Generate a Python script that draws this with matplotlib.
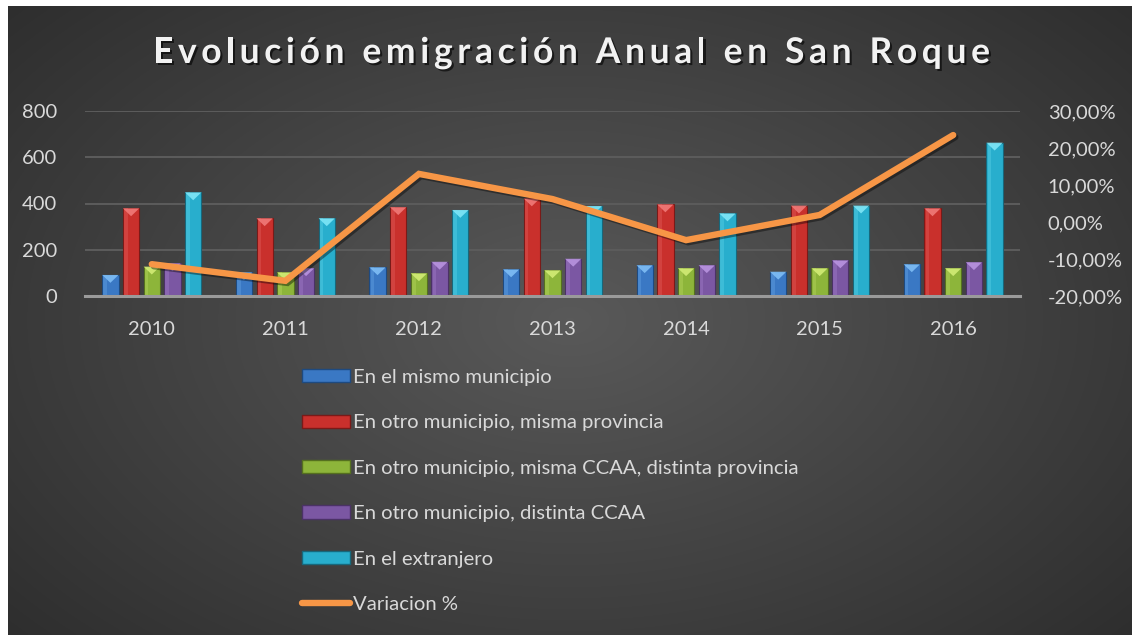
import numpy as np
import matplotlib
matplotlib.use("Agg")
import matplotlib.pyplot as plt
from matplotlib.patches import Polygon, Rectangle
from matplotlib.lines import Line2D
from matplotlib.ticker import FuncFormatter, MultipleLocator
import matplotlib.patheffects as pe

years = ["2010", "2011", "2012", "2013", "2014", "2015", "2016"]
mismo_municipio = [91, 102, 124, 115, 133, 105, 137]
otro_mun_misma_prov = [379, 336, 384, 422, 396, 391, 379]
otro_mun_misma_ccaa = [127, 102, 98, 111, 120, 120, 120]
otro_mun_distinta_ccaa = [141, 120, 148, 161, 133, 154, 146]
extranjero = [448, 336, 372, 389, 357, 391, 663]
variacion = [-0.114, -0.159, 0.130, 0.062, -0.049, 0.019, 0.235]

series_labels = ["En el mismo municipio",
                 "En otro municipio, misma provincia",
                 "En otro municipio, misma CCAA, distinta provincia",
                 "En otro municipio, distinta CCAA",
                 "En el extranjero"]
line_label = "Variacion %"
title = "Evolución emigración Anual en San Roque"

colors = ["#3a78c4", "#c9302c", "#8db53a", "#7b57a3", "#28aecd"]
light = ["#7fbef5", "#f07a78", "#d2ec76", "#b994e0", "#7fe6f7"]
dark = ["#1e4a80", "#7a1a18", "#55701f", "#4b3266", "#17687c"]
orange = "#f79646"
text_col = "#d9d9d9"

plt.rcParams['font.family'] = ['Lato', 'DejaVu Sans']

W, H = 1132, 635
fig = plt.figure(figsize=(W / 100, H / 100), dpi=100)
fig.patch.set_facecolor("white")

# background radial gradient
bg = fig.add_axes([8 / W, 0, 1 - 8 / W, 1 - 6 / H], zorder=-10)
yy, xx = np.mgrid[0:1:300j, 0:1:500j]
r = np.sqrt(((xx - 0.5) / 0.75) ** 2 + ((yy - 0.5) / 0.85) ** 2)
v = np.clip(1 - r, 0, 1)
g = 0.16 + 0.19 * v
bg.imshow(np.dstack([g, g, g]), aspect="auto", extent=[0, 1, 0, 1], interpolation="bilinear")
bg.axis("off")

ax = fig.add_axes([85 / W, 1 - 296 / H, 935 / W, 185 / H])
ax.set_facecolor("none")
ax2 = ax.twinx()

x = np.arange(len(years))
n = len(series_labels)
step = 0.155
bw = 0.122
all_series = [mismo_municipio, otro_mun_misma_prov, otro_mun_misma_ccaa,
              otro_mun_distinta_ccaa, extranjero]
cap_h = 34  # data units for top bevel triangle
for i, vals in enumerate(all_series):
    off = (i - (n - 1) / 2) * step
    ax.bar(x + off, vals, bw, color=colors[i], edgecolor=dark[i], linewidth=0.8, zorder=3)
    ax.bar(x + off - bw * 0.32, vals, bw * 0.22, color=light[i], alpha=0.25, linewidth=0, zorder=4)
    for xi, val in zip(x + off, vals):
        tri = Polygon([[xi - bw / 2, val], [xi + bw / 2, val], [xi, val - min(cap_h, val * 0.5)]],
                      closed=True, facecolor=light[i], edgecolor="none", alpha=0.9, zorder=5)
        ax.add_patch(tri)

ax.set_xlim(-0.5, len(years) - 0.5)
ax.set_ylim(0, 800)
ax.yaxis.set_major_locator(MultipleLocator(200))
ax.set_xticks(x)
ax.set_xticklabels(years)
ax.grid(axis="y", color="#5c5c5c", linewidth=1.4, zorder=0)
ax.set_axisbelow(True)
for s in ["top", "right", "left"]:
    ax.spines[s].set_visible(False)
ax.spines["bottom"].set_color("#9a9a9a")
ax.spines["bottom"].set_linewidth(2.2)
ax.spines["bottom"].set_zorder(6)
ax.tick_params(axis="both", length=0, labelcolor=text_col, labelsize=14.5)
ax.tick_params(axis="y", pad=20)
ax.tick_params(axis="x", pad=18)

ax2.plot(x, variacion, color=orange, linewidth=4.6, solid_capstyle="round", solid_joinstyle="miter",
         zorder=10, path_effects=[pe.SimpleLineShadow(offset=(1.5, -1.5), alpha=0.4), pe.Normal()])
ax2.set_ylim(-0.2, 0.3)
ax2.yaxis.set_major_locator(MultipleLocator(0.1))
ax2.yaxis.set_major_formatter(FuncFormatter(lambda v, p: ("%.2f%%" % (v * 100)).replace(".", ",").replace("-0,00", "0,00")))
for s in ax2.spines.values():
    s.set_visible(False)
ax2.tick_params(axis="y", length=0, labelcolor=text_col, labelsize=14.5, pad=20)

# legend
handles = [Rectangle((0, 0), 1, 1, facecolor=colors[i], edgecolor=dark[i], linewidth=1.0) for i in range(n)]
handles.append(Line2D([0], [0], color=orange, linewidth=4.6, solid_capstyle="round"))
leg = fig.legend(handles, series_labels + [line_label], loc="upper left",
                 bbox_to_anchor=(302 / W, 1 - 369 / H), frameon=False, fontsize=14.6,
                 labelcolor=text_col, handlelength=2.35, handleheight=0.62, handletextpad=0.15,
                 labelspacing=1.4, borderpad=0, borderaxespad=0)

# title with letter spacing
fig.canvas.draw()
renderer = fig.canvas.get_renderer()
tfs = 25.5
tkw = dict(fontsize=tfs, fontweight="bold", color="#f2f2f2", va="center", ha="left")
def width_of(s):
    if not s:
        return 0.0
    t = fig.text(0, 0, s, **tkw)
    w = t.get_window_extent(renderer).width
    t.remove()
    return w
target_w = 837.0
full_w = width_of(title)
spacing = (target_w - full_w) / (len(title) - 1)
x0 = 153.0
yc = 1 - 53 / H
for i, ch in enumerate(title):
    if ch == " ":
        continue
    px = x0 + width_of(title[:i]) + i * spacing
    fig.text(px / W, yc, ch, path_effects=[pe.withSimplePatchShadow(offset=(1.5, -1.5), shadow_rgbFace="black", alpha=0.6)], **tkw)

fig.savefig("out.png", dpi=100, facecolor=fig.get_facecolor())
